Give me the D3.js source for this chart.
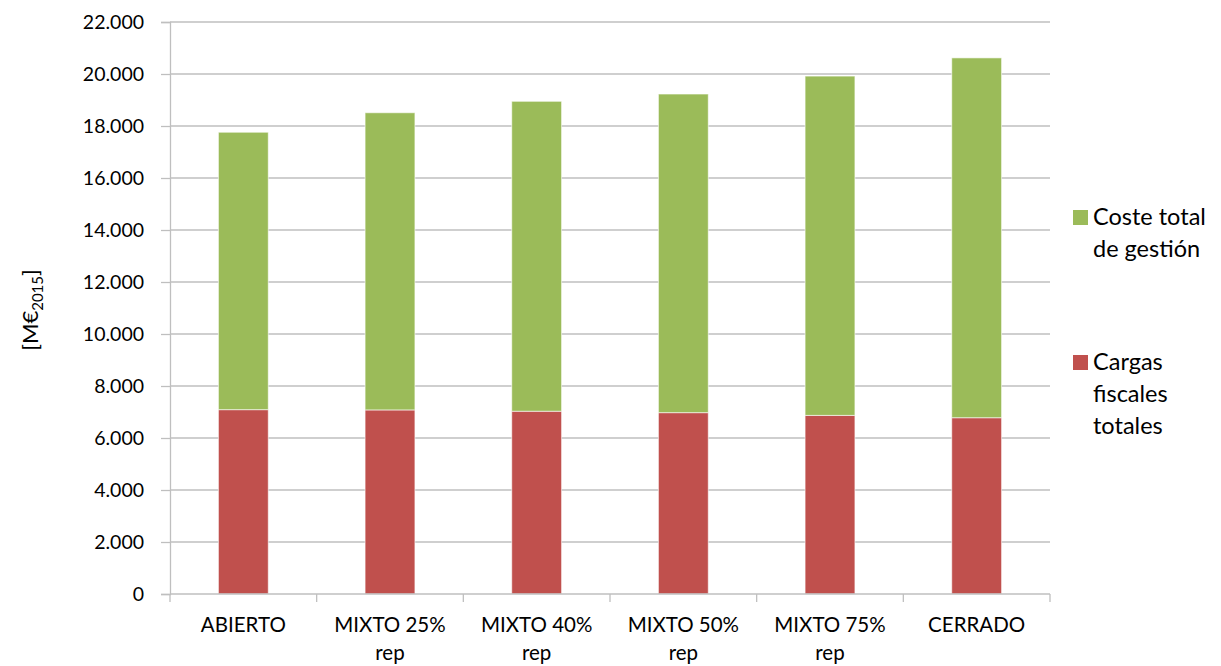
<!DOCTYPE html>
<html>
<head>
<meta charset="utf-8">
<script src="https://cdn.jsdelivr.net/npm/d3@7"></script>
<style>
  body { margin: 0; background: #fff; }
  svg { display: block; font-family: Lato, "Liberation Sans", sans-serif; }
</style>
</head>
<body>
<svg id="chart" width="1221" height="666"></svg>
<script>
// Escenarios de gestión
const categories = ["ABIERTO", "MIXTO 25% rep", "MIXTO 40% rep", "MIXTO 50% rep", "MIXTO 75% rep", "CERRADO"];
const categoryLines = [["ABIERTO"], ["MIXTO 25%", "rep"], ["MIXTO 40%", "rep"], ["MIXTO 50%", "rep"], ["MIXTO 75%", "rep"], ["CERRADO"]];
// Valores en M€ (2015)
const cargasFiscales = [7090, 7080, 7030, 6975, 6870, 6780];
const costeGestion = [10670, 11430, 11920, 12255, 13050, 13840];
const yTicks = [0, 2000, 4000, 6000, 8000, 10000, 12000, 14000, 16000, 18000, 20000, 22000];
const seriesNames = ["Coste total de gestión", "Cargas fiscales totales"];
const colors = { cargas: "#C0504D", coste: "#9BBB59" };

const svg = d3.select("#chart");
const margin = { left: 170, right: 1050, top: 22, bottom: 594 };

const x = d3.scaleBand().domain(categories).range([margin.left, margin.right]).paddingInner(0.66).paddingOuter(0.33);
const y = d3.scaleLinear().domain([0, 22000]).range([margin.bottom, margin.top]);

const fmt = v => d3.format(",")(v).replace(/,/g, ".");

// Gridlines
svg.append("g").selectAll("line").data(yTicks.filter(t => t > 0)).join("line")
  .attr("x1", margin.left).attr("x2", margin.right)
  .attr("y1", d => y(d)).attr("y2", d => y(d))
  .attr("stroke", "#BFBFBF").attr("stroke-width", 1.3);

// Y axis
const yAxis = svg.append("g").attr("transform", `translate(${margin.left},0)`)
  .call(d3.axisLeft(y).tickValues(yTicks).tickFormat(fmt).tickSize(9).tickPadding(17));
yAxis.select(".domain").attr("stroke", "#BFBFBF").attr("stroke-width", 1.3);
yAxis.selectAll(".tick line").attr("stroke", "#BFBFBF").attr("stroke-width", 1.3);
yAxis.selectAll(".tick text").attr("font-size", 19.5).attr("fill", "#000").attr("font-family", "Lato, sans-serif");

// Stacked bars
const data = categories.map((c, i) => ({ c, cargas: cargasFiscales[i], coste: costeGestion[i] }));
const stack = d3.stack().keys(["cargas", "coste"])(data);
svg.append("g").selectAll("g").data(stack).join("g")
  .attr("fill", d => colors[d.key])
  .selectAll("rect").data(d => d).join("rect")
  .attr("x", d => x(d.data.c))
  .attr("width", x.bandwidth())
  .attr("y", d => y(d[1]))
  .attr("height", d => y(d[0]) - y(d[1]))
  .attr("stroke", "#ffffff").attr("stroke-opacity", 0.6).attr("stroke-width", 1);

// X axis baseline and boundary ticks
const step = (margin.right - margin.left) / categories.length;
const xg = svg.append("g");
xg.append("line").attr("x1", margin.left).attr("x2", margin.right)
  .attr("y1", margin.bottom).attr("y2", margin.bottom)
  .attr("stroke", "#BFBFBF").attr("stroke-width", 1.3);
xg.selectAll("line.tk").data(d3.range(categories.length + 1)).join("line").attr("class", "tk")
  .attr("x1", i => margin.left + i * step).attr("x2", i => margin.left + i * step)
  .attr("y1", margin.bottom).attr("y2", margin.bottom + 8)
  .attr("stroke", "#BFBFBF").attr("stroke-width", 1.3);

// Category labels
xg.selectAll("text.cat").data(categories).join("text").attr("class", "cat")
  .attr("x", d => x(d) + x.bandwidth() / 2)
  .attr("y", 632)
  .attr("text-anchor", "middle").attr("font-size", 20.5).attr("fill", "#000")
  .each(function (d, i) {
    d3.select(this).selectAll("tspan").data(categoryLines[i]).join("tspan")
      .attr("x", x(d) + x.bandwidth() / 2)
      .attr("dy", (l, j) => j === 0 ? 0 : 28)
      .text(l => l);
  });

// Y axis title
const yt = svg.append("text")
  .attr("transform", "translate(38,310) rotate(-90)")
  .attr("text-anchor", "middle").attr("font-size", 22).attr("fill", "#000");
yt.append("tspan").text("[M€");
yt.append("tspan").attr("font-size", 15).attr("dy", 5).text("2015");
yt.append("tspan").attr("dy", -5).text("]");

// Legend
const legend = [
  { name: seriesNames[0], lines: ["Coste total", "de gestión"], color: colors.coste, y: 225 },
  { name: seriesNames[1], lines: ["Cargas", "fiscales", "totales"], color: colors.cargas, y: 370 }
];
const lg = svg.append("g").selectAll("g").data(legend).join("g");
lg.append("rect").attr("x", 1073).attr("y", d => d.y - 15).attr("width", 15).attr("height", 15)
  .attr("fill", d => d.color);
lg.append("text").attr("font-size", 23.5).attr("fill", "#000")
  .each(function (d) {
    d3.select(this).selectAll("tspan").data(d.lines).join("tspan")
      .attr("x", 1093).attr("y", (l, j) => d.y + j * 32).text(l => l);
  });
</script>
</body>
</html>
